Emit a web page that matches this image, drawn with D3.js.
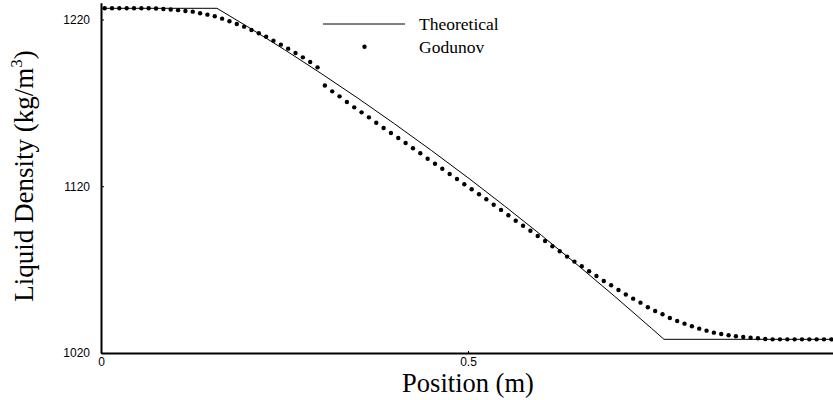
<!DOCTYPE html>
<html>
<head>
<meta charset="utf-8">
<script src="https://cdn.jsdelivr.net/npm/d3@7"></script>
<style>
  html, body { margin: 0; padding: 0; background: #fff; }
  svg { display: block; }
</style>
</head>
<body>
<svg id="chart" width="833" height="400"></svg>
<script>
// ---------------- data ----------------
const godunovX = [
  0.005, 0.015, 0.025, 0.035, 0.045, 0.055, 0.065, 0.075, 0.085, 0.095,
  0.105, 0.115, 0.125, 0.135, 0.145, 0.155, 0.165, 0.175, 0.185, 0.195,
  0.205, 0.215, 0.225, 0.235, 0.245, 0.255, 0.265, 0.275, 0.285, 0.295,
  0.305, 0.315, 0.325, 0.335, 0.345, 0.355, 0.365, 0.375, 0.385, 0.395,
  0.405, 0.415, 0.425, 0.435, 0.445, 0.455, 0.465, 0.475, 0.485, 0.495,
  0.505, 0.515, 0.525, 0.535, 0.545, 0.555, 0.565, 0.575, 0.585, 0.595,
  0.605, 0.615, 0.625, 0.635, 0.645, 0.655, 0.665, 0.675, 0.685, 0.695,
  0.705, 0.715, 0.725, 0.735, 0.745, 0.755, 0.765, 0.775, 0.785, 0.795,
  0.805, 0.815, 0.825, 0.835, 0.845, 0.855, 0.865, 0.875, 0.885, 0.895,
  0.905, 0.915, 0.925, 0.935, 0.945, 0.955, 0.965, 0.975, 0.985, 0.995
];
const godunovDensity = [
  1226.7, 1226.7, 1226.7, 1226.7, 1226.7, 1226.7, 1226.7, 1226.6, 1226.3, 1226.0,
  1225.6, 1225.1, 1224.7, 1223.7, 1222.9, 1221.9, 1220.5, 1218.9, 1217.3, 1215.7,
  1213.7, 1211.7, 1209.7, 1207.3, 1204.9, 1202.5, 1199.9, 1197.3, 1194.5, 1191.3,
  1180.4, 1176.9, 1173.9, 1170.5, 1167.3, 1164.3, 1161.3, 1158.1, 1154.9, 1151.9,
  1148.9, 1145.9, 1142.8, 1139.8, 1136.5, 1133.5, 1130.5, 1127.3, 1124.3, 1121.2,
  1118.2, 1115.2, 1112.2, 1108.9, 1105.8, 1102.6, 1099.3, 1096.3, 1093.3, 1090.2,
  1087.2, 1084.0, 1081.0, 1077.8, 1074.8, 1072.0, 1069.0, 1066.2, 1063.2, 1060.6,
  1057.8, 1055.1, 1052.6, 1050.2, 1047.4, 1045.2, 1043.2, 1041.0, 1039.2, 1037.6,
  1036.0, 1034.6, 1033.4, 1032.2, 1031.4, 1030.6, 1030.0, 1029.6, 1029.2, 1028.8,
  1028.4, 1028.2, 1028.2, 1028.2, 1028.2, 1028.2, 1028.2, 1028.2, 1028.2, 1028.2
];
const theoryX = [0, 0.158, 0.2, 0.25, 0.3, 0.35, 0.4, 0.45, 0.5, 0.55, 0.6, 0.65, 0.7, 0.75, 0.767, 1.0];
const theoryDensity = [1226.7, 1226.7, 1215.6, 1201.9, 1187.6, 1172.8, 1157.4, 1141.5, 1125.1,
                       1108.1, 1090.6, 1072.5, 1053.9, 1034.8, 1028.2, 1028.2];

const xTicks = [0, 0.5];
const xTickLabels = ["0", "0.5"];
const yTicks = [1020, 1120, 1220];
const yTickLabels = ["1020", "1120", "1220"];
const seriesNames = ["Theoretical", "Godunov"];

// ---------------- drawing ----------------
const svg = d3.select("#chart");
const x = d3.scaleLinear().domain([0, 1]).range([101, 835]);
const y = d3.scaleLinear().domain([1020, 1230]).range([353, 2.8]);

const serif = "'Liberation Serif', 'Times New Roman', serif";
const sans = "'Liberation Sans', Arial, sans-serif";

// axes
const yAxis = d3.axisLeft(y).tickValues(yTicks)
  .tickFormat((d, i) => yTickLabels[i]).tickSizeInner(-3).tickSizeOuter(0).tickPadding(11);
const gy = svg.append("g").attr("transform", "translate(101,0)").call(yAxis);
const xAxis = d3.axisBottom(x).tickValues(xTicks)
  .tickFormat((d, i) => xTickLabels[i]).tickSizeInner(-2).tickSizeOuter(0).tickPadding(4);
const gx = svg.append("g").attr("transform", "translate(0,353)").call(xAxis);

[gx, gy].forEach(g => {
  g.select(".domain").attr("stroke", "#000").attr("stroke-width", 2);
  g.selectAll(".tick line").attr("stroke", "#000").attr("stroke-width", 1);
  g.selectAll(".tick text").attr("font-family", sans).attr("font-size", 12).attr("fill", "#000");
});

// theoretical line
const theory = theoryX.map((v, i) => [v, theoryDensity[i]]);
svg.append("path")
  .datum(theory)
  .attr("fill", "none")
  .attr("stroke", "#000")
  .attr("stroke-width", 1)
  .attr("d", d3.line().x(d => x(d[0])).y(d => y(d[1])));

// Godunov points
const pts = godunovX.map((v, i) => [v, godunovDensity[i]]);
svg.append("g").selectAll("circle")
  .data(pts).join("circle")
  .attr("cx", d => x(d[0]))
  .attr("cy", d => y(d[1]))
  .attr("r", 2.2)
  .attr("fill", "#000");

// legend
const lg = svg.append("g");
lg.append("line").attr("x1", 323).attr("x2", 405).attr("y1", 24).attr("y2", 24)
  .attr("stroke", "#000").attr("stroke-width", 1);
lg.append("text").attr("x", 419).attr("y", 29.5).text(seriesNames[0])
  .attr("font-family", serif).attr("font-size", 17.5).attr("fill", "#000");
lg.append("circle").attr("cx", 364.5).attr("cy", 46.7).attr("r", 2.2).attr("fill", "#000");
lg.append("text").attr("x", 419).attr("y", 52.5).text(seriesNames[1])
  .attr("font-family", serif).attr("font-size", 17.5).attr("fill", "#000");

// axis titles
svg.append("text")
  .attr("x", 468).attr("y", 392)
  .attr("text-anchor", "middle")
  .attr("font-family", serif).attr("font-size", 26.5).attr("fill", "#000")
  .text("Position (m)");

const yt = svg.append("text")
  .attr("transform", "translate(33,176) rotate(-90)")
  .attr("text-anchor", "middle")
  .attr("font-family", serif).attr("font-size", 27).attr("fill", "#000");
yt.append("tspan").text("Liquid Density (kg/m");
yt.append("tspan").attr("dy", -11).attr("font-size", 17).text("3");
yt.append("tspan").attr("dy", 11).text(")");
</script>
</body>
</html>
